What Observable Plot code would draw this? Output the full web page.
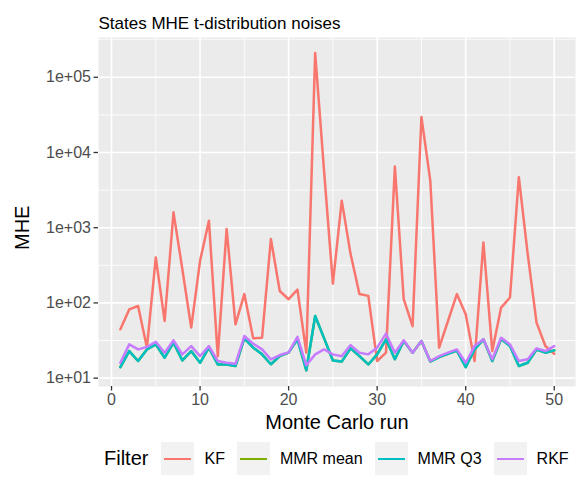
<!DOCTYPE html>
<html>
<head>
<meta charset="utf-8">
<script src="https://cdn.jsdelivr.net/npm/d3@7"></script>
<script src="https://cdn.jsdelivr.net/npm/@observablehq/plot@0.6"></script>
<style>
  html, body { margin: 0; padding: 0; background: white; }
  body { width: 585px; height: 500px; overflow: hidden; position: relative; font-family: "Liberation Sans", Arial, sans-serif; }
  #chart { position: absolute; left: 0; top: 0; }
  #chart svg g[aria-label$="tick"] path { stroke: #333333; }
  #legend { position: absolute; left: 104px; top: 442px; height: 33px; display: flex; align-items: center; color: black; }
  #legend .ttl { font-size: 20px; margin-right: 13px; }
  #legend .key { width: 33px; height: 33px; background: #F2F2F2; position: relative; margin-right: 10px; }
  #legend .key span { position: absolute; left: 3px; right: 3px; top: 15.5px; height: 2.4px; }
  #legend .lab { font-size: 16px; margin-right: 12px; }
</style>
</head>
<body>
<div id="chart"></div>
<div id="legend"></div>
<script>
// ---- data ----
const runs = [1,2,3,4,5,6,7,8,9,10,11,12,13,14,15,16,17,18,19,20,21,22,23,24,25,26,27,28,29,30,31,32,33,34,35,36,37,38,39,40,41,42,43,44,45,46,47,48,49,50];
const filters = ["KF", "MMR mean", "MMR Q3", "RKF"];
const colors = ["#F8766D", "#7CAE00", "#00BFC4", "#C77CFF"];
const kf = [44.6, 82, 91, 25.5, 402, 57.5, 1600, 280, 47, 363, 1240, 19.6, 960, 52, 131, 33.8, 34.5, 706, 144, 112, 150, 21.8, 210000, 5800, 180, 2290, 446, 131, 124, 16.9, 21.8, 6500, 112, 49, 29600, 4230, 25.4, 57.5, 131, 70.6, 16.9, 637, 22.9, 86.6, 118, 4690, 450, 54.7, 26.7, 21];
const mmrMean = [14, 22.9, 16.9, 24.1, 28.1, 18.7, 29.6, 17.2, 22.9, 16, 25.4, 15.2, 15.2, 14.5, 33.8, 25.4, 20.7, 15.3, 19.6, 21.8, 32.8, 12.7, 67, 34, 17.2, 16.6, 24.9, 19.6, 15.2, 20.7, 32.8, 17.8, 31.1, 21.8, 31.1, 16.6, 19, 21, 23.2, 14, 24.1, 32.8, 16.9, 33, 26.7, 14.5, 16, 24, 21.8, 23.4];
const mmrQ3 = [14, 22.9, 16.9, 24.1, 28.1, 18.7, 29.6, 17.2, 22.9, 16, 25.4, 15.2, 15.2, 14.5, 33.8, 25.4, 20.7, 15.3, 19.6, 21.8, 32.8, 12.7, 67, 34, 17.2, 16.6, 24.9, 19.6, 15.2, 20.7, 32.8, 17.8, 31.1, 21.8, 31.1, 16.6, 19, 21, 23.2, 14, 24.1, 32.8, 16.9, 33, 26.7, 14.5, 16, 24, 21.8, 23.4];
const rkf = [16, 28.1, 24.1, 25.9, 30.5, 21.8, 31.8, 20.7, 26.7, 19.6, 26.7, 16.9, 16, 15.5, 36.3, 28.7, 24.1, 17.8, 20.3, 22, 35.4, 14.8, 20.7, 24.1, 20.7, 19.6, 27.5, 21.8, 20.7, 25.4, 39, 21.8, 31.8, 21.8, 31.1, 16.9, 19.6, 21.8, 24.1, 16, 26.7, 32.8, 17.8, 34.5, 28.1, 16.9, 17.8, 24.9, 22.9, 26.7];
const xTicks = [0, 10, 20, 30, 40, 50];
const xMinor = [5, 15, 25, 35, 45];
const yTicks = [1e1, 1e2, 1e3, 1e4, 1e5];
const yTickLabels = ["1e+01", "1e+02", "1e+03", "1e+04", "1e+05"];
const yMinor = [31.6228, 316.228, 3162.28, 31622.8, 316228];
const titleText = "States MHE t-distribution noises";
const xLabel = "Monte Carlo run";
const yLabel = "MHE";
const legendTitle = "Filter";

// ---- table ----
const seriesValues = [kf, mmrMean, mmrQ3, rkf];
const data = [];
filters.forEach((f, i) => runs.forEach((r, j) => data.push({run: r, value: seriesValues[i][j], filter: f})));

const chart = Plot.plot({
  width: 585,
  height: 440,
  marginLeft: 98,
  marginRight: 10,
  marginTop: 37,
  marginBottom: 54,
  style: {fontFamily: "'Liberation Sans', Arial, sans-serif", background: "white", color: "#4D4D4D"},
  x: {domain: [-1.47, 52.4]},
  y: {type: "log", domain: [7.74, 338000]},
  color: {domain: filters, range: colors},
  marks: [
    Plot.frame({fill: "#EBEBEB", stroke: null}),
    Plot.ruleX(xMinor, {stroke: "white", strokeWidth: 0.8}),
    Plot.ruleY(yMinor, {stroke: "white", strokeWidth: 0.8}),
    Plot.ruleX(xTicks, {stroke: "white", strokeWidth: 1.6}),
    Plot.ruleY(yTicks, {stroke: "white", strokeWidth: 1.6}),
    Plot.line(data, {x: "run", y: "value", z: "filter", stroke: "filter", strokeWidth: 2.5}),
    Plot.axisX(xTicks, {tickSize: 4.5, tickPadding: 3, fontSize: 16, label: null, strokeWidth: 1.3}),
    Plot.axisY(yTicks, {tickSize: 4.5, tickPadding: 3, fontSize: 16, label: null, strokeWidth: 1.3,
      tickFormat: d => yTickLabels[yTicks.indexOf(d)]}),
    Plot.text([xLabel], {frameAnchor: "bottom", dy: 42, fontSize: 20, fill: "black"}),
    Plot.text([yLabel], {frameAnchor: "left", dx: -76, dy: 38, rotate: -90, fontSize: 20, fill: "black"}),
    Plot.text([titleText], {frameAnchor: "top-left", dy: -21, textAnchor: "start", fontSize: 17, fill: "black"})
  ]
});
document.getElementById("chart").appendChild(chart);

// ---- legend ----
const lg = document.getElementById("legend");
const t = document.createElement("div");
t.className = "ttl"; t.textContent = legendTitle; lg.appendChild(t);
filters.forEach((f, i) => {
  const k = document.createElement("div"); k.className = "key";
  const s = document.createElement("span"); s.style.background = colors[i]; k.appendChild(s);
  lg.appendChild(k);
  const l = document.createElement("div"); l.className = "lab"; l.textContent = f; lg.appendChild(l);
});
</script>
</body>
</html>
